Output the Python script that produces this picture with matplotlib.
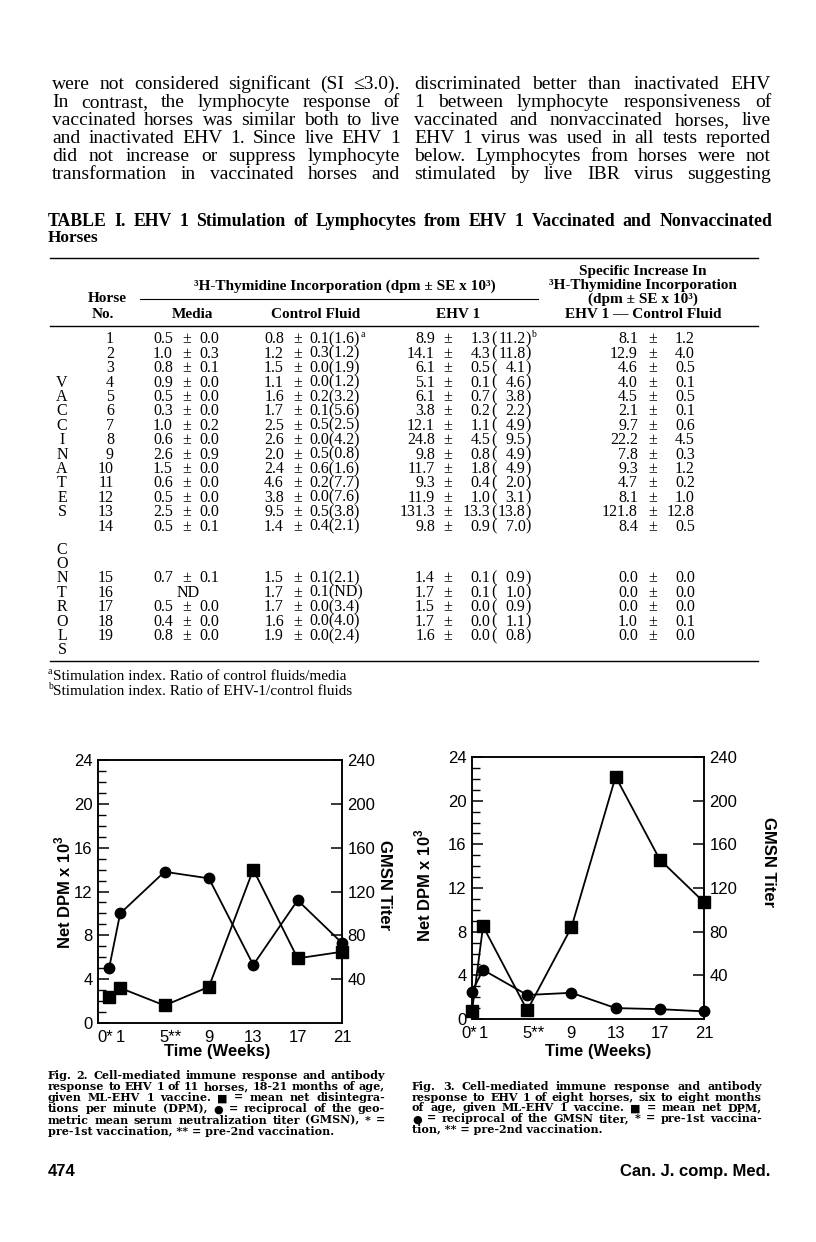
import matplotlib
matplotlib.use('Agg')
import matplotlib.pyplot as plt
import matplotlib.transforms as mtransforms
from matplotlib.lines import Line2D

plt.rcParams['font.family'] = ['Liberation Sans', 'DejaVu Sans']
plt.rcParams['mathtext.fontset'] = 'custom'
plt.rcParams['mathtext.rm'] = 'Liberation Sans'
plt.rcParams['mathtext.bf'] = 'Liberation Sans:bold'

W, H = 816, 1242
SERIF = ['Liberation Serif', 'DejaVu Serif']
CAPF = ['DejaVu Serif', 'DejaVu Sans']

# ---- Figs. 2 and 3 ----
weeks = [0, 1, 5, 9, 13, 17, 21]
week_labels = ['0*', '1', '5**', '9', '13', '17', '21']
fig2_dpm = [2.4, 3.2, 1.6, 3.3, 14.0, 5.9, 6.5]
fig2_gmsn = [50, 100, 138, 132, 53, 112, 73]
fig3_dpm = [0.7, 8.5, 0.8, 8.4, 22.2, 14.6, 10.7]
fig3_gmsn = [25, 45, 22, 24, 10, 9, 7]

# ---- Table I ----
horse = list(range(1, 20))
media_mean = [0.5, 1.0, 0.8, 0.9, 0.5, 0.3, 1.0, 0.6, 2.6, 1.5, 0.6, 0.5, 2.5, 0.5,
              0.7, None, 0.5, 0.4, 0.8]
media_se = [0.0, 0.3, 0.1, 0.0, 0.0, 0.0, 0.2, 0.0, 0.9, 0.0, 0.0, 0.0, 0.0, 0.1,
            0.1, None, 0.0, 0.0, 0.0]
ctrl_mean = [0.8, 1.2, 1.5, 1.1, 1.6, 1.7, 2.5, 2.6, 2.0, 2.4, 4.6, 3.8, 9.5, 1.4,
             1.5, 1.7, 1.7, 1.6, 1.9]
ctrl_se = [0.1, 0.3, 0.0, 0.0, 0.2, 0.1, 0.5, 0.0, 0.5, 0.6, 0.2, 0.0, 0.5, 0.4,
           0.1, 0.1, 0.0, 0.0, 0.0]
ctrl_si = [1.6, 1.2, 1.9, 1.2, 3.2, 5.6, 2.5, 4.2, 0.8, 1.6, 7.7, 7.6, 3.8, 2.1,
           2.1, None, 3.4, 4.0, 2.4]
ehv_mean = [8.9, 14.1, 6.1, 5.1, 6.1, 3.8, 12.1, 24.8, 9.8, 11.7, 9.3, 11.9, 131.3, 9.8,
            1.4, 1.7, 1.5, 1.7, 1.6]
ehv_se = [1.3, 4.3, 0.5, 0.1, 0.7, 0.2, 1.1, 4.5, 0.8, 1.8, 0.4, 1.0, 13.3, 0.9,
          0.1, 0.1, 0.0, 0.0, 0.0]
ehv_si = [11.2, 11.8, 4.1, 4.6, 3.8, 2.2, 4.9, 9.5, 4.9, 4.9, 2.0, 3.1, 13.8, 7.0,
          0.9, 1.0, 0.9, 1.1, 0.8]
spec_mean = [8.1, 12.9, 4.6, 4.0, 4.5, 2.1, 9.7, 22.2, 7.8, 9.3, 4.7, 8.1, 121.8, 8.4,
             0.0, 0.0, 0.0, 1.0, 0.0]
spec_se = [1.2, 4.0, 0.5, 0.1, 0.5, 0.1, 0.6, 4.5, 0.3, 1.2, 0.2, 1.0, 12.8, 0.5,
           0.0, 0.0, 0.0, 0.1, 0.0]

left_col = ["were not considered significant (SI ≤3.0).",
            "In contrast, the lymphocyte response of",
            "vaccinated horses was similar both to live",
            "and inactivated EHV 1. Since live EHV 1",
            "did not increase or suppress lymphocyte",
            "transformation in vaccinated horses and"]
right_col = ["discriminated better than inactivated EHV",
             "1 between lymphocyte responsiveness of",
             "vaccinated and nonvaccinated horses, live",
             "EHV 1 virus was used in all tests reported",
             "below. Lymphocytes from horses were not",
             "stimulated by live IBR virus suggesting"]
cap2 = ["Fig. 2. Cell-mediated immune response and antibody",
        "response to EHV 1 of 11 horses, 18-21 months of age,",
        "given ML-EHV 1 vaccine. ■ = mean net disintegra-",
        "tions per minute (DPM), ● = reciprocal of the geo-",
        "metric mean serum neutralization titer (GMSN), * =",
        "pre-1st vaccination, ** = pre-2nd vaccination."]
cap3 = ["Fig. 3. Cell-mediated immune response and antibody",
        "response to EHV 1 of eight horses, six to eight months",
        "of age, given ML-EHV 1 vaccine. ■ = mean net DPM,",
        "● = reciprocal of the GMSN titer, * = pre-1st vaccina-",
        "tion, ** = pre-2nd vaccination."]

fig = plt.figure(figsize=(W / 100, H / 100), dpi=100)
fig.patch.set_facecolor('white')
renderer = fig.canvas.get_renderer()

BODY = 11.5


def T(x, y, s, ha='left', size=BODY, weight='normal', family=SERIF, va='baseline', **kw):
    # y is the visual middle of the capitals; place on a shared baseline
    if va == 'baseline':
        y = y + 0.34 * size * 100 / 72
    return fig.text(x / W, 1 - y / H, s, ha=ha, va=va, fontsize=size,
                    fontweight=weight, family=family, **kw)


def justify(line, x0, x1, y, size, min_gap=3, **kw):
    words = line.split()
    while True:
        ts = [T(0, y, w, size=size, **kw) for w in words]
        ws = [t.get_window_extent(renderer).width for t in ts]
        gap = (x1 - x0 - sum(ws)) / max(len(words) - 1, 1)
        if gap >= min_gap or size < 5:
            break
        for t in ts:
            t.remove()
        size -= 0.2
    x = x0
    for t, w in zip(ts, ws):
        t.set_x(x / W)
        x += w + gap
    return size


def hrule(y, x0, x1, lw=1.0):
    fig.add_artist(Line2D([x0 / W, x1 / W], [1 - y / H, 1 - y / H],
                          transform=fig.transFigure, color='black', lw=lw))


# body text
for i, (a, b) in enumerate(zip(left_col, right_col)):
    y = 82 + 18 * i
    justify(a, 52, 400, y, 14, min_gap=4)
    justify(b, 414, 771, y, 14, min_gap=4)

# table title
justify("TABLE I. EHV 1 Stimulation of Lymphocytes from EHV 1 Vaccinated and Nonvaccinated",
        48, 772, 220, 12.8, min_gap=4, weight='bold')
T(48, 236, "Horses", size=12.4, weight='bold')

# table header
HS = 11
hrule(258, 50, 758)
T(107, 297, "Horse", ha='center', weight='bold', size=HS)
T(103, 313, "No.", ha='center', weight='bold', size=HS)
T(345, 285, "³H-Thymidine Incorporation (dpm ± SE x 10³)", ha='center', weight='bold', size=HS)
hrule(299, 140, 538, lw=0.8)
T(192, 313, "Media", ha='center', weight='bold', size=HS)
T(316, 313, "Control Fluid", ha='center', weight='bold', size=HS)
T(458, 313, "EHV 1", ha='center', weight='bold', size=HS)
T(643, 270, "Specific Increase In", ha='center', weight='bold', size=HS)
T(643, 284, "³H-Thymidine Incorporation", ha='center', weight='bold', size=HS)
T(643, 298, "(dpm ± SE x 10³)", ha='center', weight='bold', size=HS)
T(643, 313, "EHV 1 — Control Fluid", ha='center', weight='bold', size=HS)
hrule(326, 50, 758)

# table rows
row_y = [338 + 14.4 * i for i in range(14)] + [577 + 14.4 * i for i in range(5)]
for i, y in enumerate(row_y):
    T(114, y, str(horse[i]), ha='right')
    if media_mean[i] is None:
        T(188, y, "ND", ha='center')
    else:
        T(173, y, f"{media_mean[i]:.1f}", ha='right')
        T(187, y, "±", ha='center')
        T(199, y, f"{media_se[i]:.1f}")
    T(284, y, f"{ctrl_mean[i]:.1f}", ha='right')
    T(298, y, "±", ha='center')
    si = "ND" if ctrl_si[i] is None else f"{ctrl_si[i]:.1f}"
    t = T(309, y, f"{ctrl_se[i]:.1f}({si})")
    if i == 0:
        x1 = t.get_window_extent(renderer).x1
        T(x1 + 1, y - 4, "a", size=7)
    T(435, y, f"{ehv_mean[i]:.1f}", ha='right')
    T(448, y, "±", ha='center')
    T(490.5, y, f"{ehv_se[i]:.1f}", ha='right')
    T(491, y, "(")
    T(525.5, y, f"{ehv_si[i]:.1f}", ha='right')
    T(525.5, y, ")")
    if i == 0:
        T(531, y - 4, "b", size=7)
    T(638, y, f"{spec_mean[i]:.1f}", ha='right')
    T(653, y, "±", ha='center')
    T(695, y, f"{spec_se[i]:.1f}", ha='right')

for k, ch in enumerate("VACCINATES"):
    T(62, row_y[3 + k], ch, ha='center')
ctrl_y = [row_y[14] - 28.8, row_y[14] - 14.4] + row_y[14:] + [row_y[18] + 14.4]
for ch, y in zip("CONTROLS", ctrl_y):
    T(62, y, ch, ha='center')
hrule(661, 50, 758)

T(48, 671, "a", size=7)
T(53, 675, "Stimulation index. Ratio of control fluids/media", size=11)
T(48, 686, "b", size=7)
T(53, 690, "Stimulation index. Ratio of EHV-1/control fluids", size=11)


# charts
def panel(l, t, r, b, xlim, dpm, gmsn, shift0):
    ax = fig.add_axes([l / W, 1 - b / H, (r - l) / W, (b - t) / H])
    ax.plot(weeks, dpm, color='black', lw=1.3, marker='s', ms=9, clip_on=False, zorder=3)
    ax2 = ax.twinx()
    ax2.plot(weeks, gmsn, color='black', lw=1.3, marker='o', ms=7.5, clip_on=False, zorder=3)
    ax.set_xlim(*xlim)
    ax.set_ylim(0, 24)
    ax2.set_ylim(0, 240)
    ax.set_yticks(range(0, 25, 4))
    ax.set_yticks(range(0, 25), minor=True)
    ax2.set_yticks(range(40, 241, 40))
    ax.set_xticks(weeks, week_labels)
    ax.set_xticks([1], minor=True)
    ax.tick_params(axis='y', which='major', direction='in', length=8, width=1.1,
                   labelsize=12, pad=4)
    ax.tick_params(axis='y', which='minor', direction='in', length=6, width=1.0)
    ax.tick_params(axis='x', which='major', length=0, labelsize=12, pad=5)
    ax.tick_params(axis='x', which='minor', direction='in', length=8, width=1.1)
    ax2.tick_params(axis='y', direction='in', length=8, width=1.1, labelsize=12, pad=4)
    for a in (ax, ax2):
        for s in a.spines.values():
            s.set_linewidth(1.1)
    labs = ax.get_xticklabels()
    for lab, dx in ((labs[0], shift0), (labs[2], 6)):
        off = mtransforms.ScaledTranslation(dx / 100, 0, fig.dpi_scale_trans)
        lab.set_transform(lab.get_transform() + off)
    return ax


panel(98, 760, 342, 1023, (-1, 21), fig2_dpm, fig2_gmsn, -4)
panel(472, 757, 704, 1019, (0, 21), fig3_dpm, fig3_gmsn, -3)

ylab = r"Net DPM x 10$^\mathbf{3}$"
for x, y in ((63, 892), (423, 885)):
    T(x, y, ylab, ha='center', va='center', size=12, weight='bold', family=None, rotation=90)
for x, y in ((385, 885), (768, 862)):
    T(x, y, "GMSN Titer", ha='center', va='center', size=12, weight='bold', family=None,
      rotation=270)
for x in (217, 598):
    T(x, 1050, "Time (Weeks)", ha='center', size=12, weight='bold', family=None)

# captions
for i, line in enumerate(cap2):
    y = 1075 + 11.2 * i
    if i < len(cap2) - 1:
        sz = justify(line, 48, 385, y, 8, min_gap=3, weight='bold', family=CAPF)
    else:
        T(48, y, line, size=sz, weight='bold', family=CAPF)
for i, line in enumerate(cap3):
    y = 1086 + 10.8 * i
    if i < len(cap3) - 1:
        sz = justify(line, 412, 762, y, 8, min_gap=3, weight='bold', family=CAPF)
    else:
        T(412, y, line, size=sz, weight='bold', family=CAPF)

T(48, 1170, "474", size=12, weight='bold', family=None)
T(770, 1170, "Can. J. comp. Med.", ha='right', size=12, weight='bold', family=None)

fig.savefig('out.png', dpi=100, facecolor='white')
